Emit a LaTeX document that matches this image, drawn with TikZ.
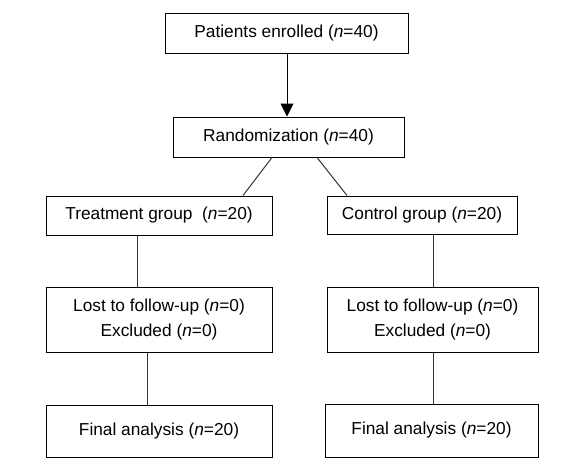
\documentclass[tikz,border=0pt]{standalone}
\usepackage{fontspec}
\setmainfont{Liberation Sans}
\usetikzlibrary{arrows.meta}
\begin{document}
\begin{tikzpicture}[x=1pt,y=-1pt,
  boxnode/.style={draw=black,line width=1pt,rectangle,inner sep=0pt,align=center,
    font=\fontsize{17.3}{25}\selectfont},
  conn/.style={draw=black!80,line width=1pt}]
\useasboundingbox (0,0) rectangle (573,471);
\node[boxnode,minimum width=243pt,minimum height=40pt] (enr) at (286.5,33) {Patients enrolled (\textit{n}=40)};
\node[boxnode,minimum width=231pt,minimum height=40pt] (rand) at (288.5,137) {Randomization (\textit{n}=40)};
\node[boxnode,minimum width=226pt,minimum height=39pt] (treat) at (159,215.5) {Treatment group\ \ (\textit{n}=20)};
\node[boxnode,minimum width=190pt,minimum height=38pt] (ctrl) at (422,215) {Control group (\textit{n}=20)};
\node[boxnode,minimum width=226pt,minimum height=65pt] (lostl) at (159,319.5) {Lost to follow-up (\textit{n}=0)\\Excluded (\textit{n}=0)};
\node[boxnode,minimum width=211pt,minimum height=65pt] (lostr) at (432.5,319.5) {Lost to follow-up (\textit{n}=0)\\Excluded (\textit{n}=0)};
\node[boxnode,minimum width=226pt,minimum height=52pt] (finl) at (159,431) {Final analysis (\textit{n}=20)};
\node[boxnode,minimum width=213pt,minimum height=53pt] (finr) at (431.5,430.5) {Final analysis (\textit{n}=20)};
\draw[line width=1pt,-{Triangle[width=13pt,length=13pt]}] ([xshift=0.5pt]enr.south) -- ([xshift=0.5pt]enr.south |- rand.north);
\draw[conn] ([xshift=-16.5pt]rand.south) -- ([xshift=84pt]treat.north);
\draw[conn] ([xshift=28.5pt]rand.south) -- ([xshift=-75pt]ctrl.north);
\draw[conn] ([xshift=-22pt]treat.south) -- ([xshift=-22pt]lostl.north);
\draw[conn] ([xshift=-12pt]lostl.south) -- ([xshift=-12pt]finl.north);
\draw[conn] ([xshift=11pt]ctrl.south) -- ([xshift=0.5pt]lostr.north);
\draw[conn] ([xshift=0.5pt]lostr.south) -- ([xshift=1.5pt]finr.north);
\end{tikzpicture}
\end{document}
